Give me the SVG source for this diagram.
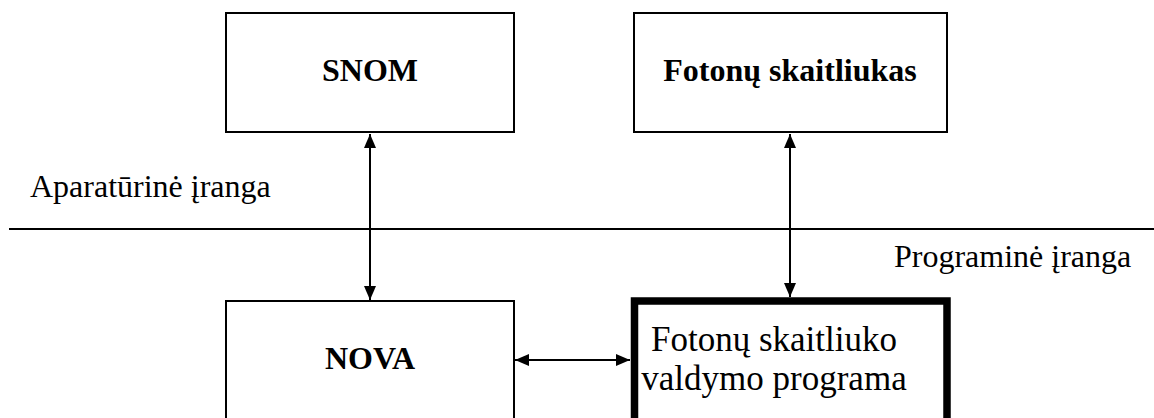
<svg xmlns="http://www.w3.org/2000/svg" width="1154" height="418" viewBox="0 0 1154 418">
<style>
.box{fill:#fff;stroke:#000;stroke-width:2}
.thick{fill:#fff;stroke:#000;stroke-width:7.5}
.b{font-family:"Liberation Serif","Times New Roman",serif;font-weight:bold;font-size:32px;fill:#000;text-anchor:middle}
.r{font-family:"Liberation Serif","Times New Roman",serif;font-size:32px;fill:#000}
.r35{font-family:"Liberation Serif","Times New Roman",serif;font-size:35px;fill:#000;text-anchor:middle}
.con{stroke:#000;stroke-width:2;fill:none;marker-start:url(#ah);marker-end:url(#ah)}
</style>
<defs>
<marker id="ah" viewBox="0 0 14 12" refX="14" refY="6" markerWidth="14" markerHeight="12" markerUnits="userSpaceOnUse" orient="auto-start-reverse">
<path d="M0,0 L14,6 L0,12 z" fill="#000"/>
</marker>
</defs>
<rect width="1154" height="418" fill="#fff"/>
<line x1="9" y1="229" x2="1154" y2="229" stroke="#000" stroke-width="2"/>
<text class="r" x="30" y="197">Aparatūrinė įranga</text>
<text class="r" x="894" y="267">Programinė įranga</text>
<g id="snom">
<rect class="box" x="226" y="13" width="288" height="119"/>
<text class="b" x="370" y="81">SNOM</text>
</g>
<g id="fotonu-skaitliukas">
<rect class="box" x="634" y="13" width="313" height="119"/>
<text class="b" x="790" y="81">Fotonų skaitliukas</text>
</g>
<g id="nova">
<rect class="box" x="226" y="301" width="288" height="140"/>
<text class="b" x="370" y="369">NOVA</text>
</g>
<g id="valdymo-programa">
<rect class="thick" x="634.5" y="301" width="312.5" height="140"/>
<text class="r35" x="774" y="351">Fotonų skaitliuko</text>
<text class="r35" x="774" y="390">valdymo programa</text>
</g>
<g id="connectors">
<line class="con" x1="370" y1="134" x2="370" y2="300"/>
<line class="con" x1="790" y1="134" x2="790" y2="297"/>
<line class="con" x1="515" y1="360" x2="630" y2="360"/>
</g>
</svg>
